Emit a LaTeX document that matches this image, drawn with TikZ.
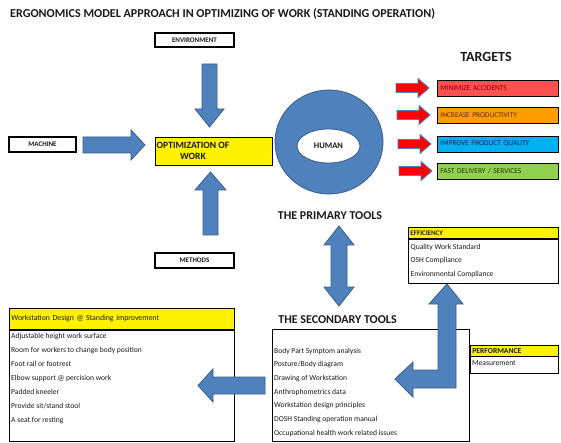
\documentclass[tikz,border=0pt]{standalone}
\usepackage{fontspec}
\setmainfont{Carlito}
\definecolor{ablue}{HTML}{4F81BD}
\definecolor{ablueline}{HTML}{385D8A}
\definecolor{tred}{HTML}{FF5050}
\definecolor{tredtext}{HTML}{7F0000}
\definecolor{torange}{HTML}{FF9C00}
\definecolor{torangetext}{HTML}{5A2E00}
\definecolor{tblue}{HTML}{00B0F0}
\definecolor{tbluetext}{HTML}{002060}
\definecolor{tgreen}{HTML}{92D050}
\definecolor{tgreentext}{HTML}{1E3A00}
\definecolor{ink}{HTML}{1A1A1A}
\begin{document}
\begin{tikzpicture}[x=1pt,y=-1pt,
  fatarrow/.style={fill=ablue, draw=ablueline, line width=0.8pt, line join=miter},
  redarrow/.style={fill=red, draw=ablue, line width=0.9pt, line join=miter},
  labelbox/.style={draw=black, line width=1.4pt, fill=white, inner sep=0pt,
    text=ink, font=\fontsize{7}{8}\bfseries\selectfont},
  headtext/.style={text=ink, font=\fontsize{12}{14}\bfseries\selectfont, inner sep=0pt},
  tbox/.style={draw=black, line width=0.8pt, minimum height=16pt, text width=115pt,
    align=left, inner xsep=3pt, inner ysep=0pt, font=\fontsize{7.4}{8}\selectfont,
    anchor=west},
  hbar/.style={draw=black, line width=0.8pt, fill=yellow, anchor=north west,
    inner xsep=2pt, inner ysep=0pt, align=left, text=ink},
  bodybox/.style={draw=black, line width=0.8pt, fill=white, anchor=north west, inner sep=0pt},
  listtext/.style={anchor=west, inner sep=0pt, text=ink, font=\fontsize{7.6}{9}\selectfont,
    text height=5.5pt, text depth=1.5pt}
]
\useasboundingbox (0,0) rectangle (561,443);
\fill[white] (0,0) rectangle (561,443);

% title
\node[headtext, anchor=west, font=\fontsize{12.1}{14}\bfseries\selectfont] (title) at (10,14)
  {ERGONOMICS MODEL APPROACH IN OPTIMIZING OF WORK (STANDING OPERATION)};

% input boxes
\node[labelbox, minimum width=79pt, minimum height=14pt] (env) at (194.5,40) {ENVIRONMENT};
\node[labelbox, minimum width=67pt, minimum height=15pt] (mach) at (42.5,144.5) {MACHINE};
\node[labelbox, minimum width=79pt, minimum height=15pt] (meth) at (194.5,260.5) {METHODS};

% optimization box
\node[draw=black, line width=0.8pt, fill=yellow, minimum width=117pt, minimum height=28pt,
  inner sep=0pt] (opt) at (213.5,151) {};
\node[anchor=west, align=center, inner sep=0pt, text=ink,
  font=\fontsize{9.6}{10.5}\bfseries\selectfont] (opttext) at (156.5,151)
  {OPTIMIZATION OF\\WORK};

% block arrows into optimization
\draw[fatarrow] (202,64) -- (217,64) -- (217,109) -- (224,109) -- (209.5,127)
  -- (195,109) -- (202,109) -- cycle;
\draw[fatarrow] (83,137) -- (131,137) -- (131,130) -- (145,145) -- (131,160)
  -- (131,153) -- (83,153) -- cycle;
\draw[fatarrow] (203,235) -- (203,190) -- (195,190) -- (210.5,172) -- (226,190)
  -- (218,190) -- (218,235) -- cycle;

% human ring
\path[fill=ablue, even odd rule] (329,142) ellipse [x radius=54pt, y radius=52pt]
  (328.5,146) ellipse [x radius=31.5pt, y radius=17pt];
\draw[ablueline, line width=0.8pt] (329,142) ellipse [x radius=54pt, y radius=52pt];
\draw[ablueline, line width=0.8pt] (328.5,146) ellipse [x radius=31.5pt, y radius=17pt];
\node[inner sep=0pt, text=ink, font=\fontsize{8.5}{9}\bfseries\selectfont] (human) at (328.5,146) {HUMAN};

% targets
\node[headtext, font=\fontsize{14}{16}\bfseries\selectfont] (targets) at (486,56.5) {TARGETS};
\node[tbox, fill=tred, text=tredtext] (t1) at (437,88) {MINIMIZE ACCIDENTS};
\node[tbox, fill=torange, text=torangetext] (t2) at (437,115) {INCREASE PRODUCTIVITY};
\node[tbox, fill=tblue, text=tbluetext] (t3) at (437,144) {IMPROVE PRODUCT QUALITY};
\node[tbox, fill=tgreen, text=tgreentext] (t4) at (437,171) {FAST DELIVERY / SERVICES};
\foreach \yy/\xx in {88/396, 115/397, 144/398, 171/399}{
  \draw[redarrow] (\xx,\yy-4.5) -- (\xx+22,\yy-4.5) -- (\xx+22,\yy-9.5) -- (\xx+33,\yy)
    -- (\xx+22,\yy+9.5) -- (\xx+22,\yy+4.5) -- (\xx,\yy+4.5) -- cycle;
}

% primary tools
\node[headtext] (primary) at (330,215.5) {THE PRIMARY TOOLS};
\draw[fatarrow] (339,226) -- (354,245) -- (347,245) -- (347,287) -- (354,287) -- (339,306)
  -- (324,287) -- (331,287) -- (331,245) -- (324,245) -- cycle;

% efficiency box
\node[hbar, minimum width=150pt, minimum height=11pt, text width=146pt,
  font=\fontsize{7}{8}\bfseries\selectfont] (effh) at (408,227) {EFFICIENCY};
\node[bodybox, minimum width=150pt, minimum height=44pt] (effb) at (effh.south west) {};
\foreach \t [count=\i] in {Quality Work Standard, OSH Compliance, Environmental Compliance}
  \node[listtext] (eff\i) at (410.5,{247+13.5*(\i-1)}) {\t};

% secondary tools
\node[headtext] (secondary) at (337.5,319.5) {THE SECONDARY TOOLS};
\node[bodybox, minimum width=197pt, minimum height=112pt] (secb) at (272,329) {};
\foreach \t [count=\i] in {Body Part Symptom analysis, Posture/Body diagram,
  Drawing of Workstation, Anthrophometrics data, Workstation design principles,
  DOSH Standing operation manual, Occupational health work related issues}
  \node[listtext] (sec\i) at (274,{351+13.7*(\i-1)}) {\t};

% performance box
\node[hbar, minimum width=88pt, minimum height=10.5pt, text width=84pt,
  font=\fontsize{7.6}{8}\bfseries\selectfont] (perfh) at (470,345) {PERFORMANCE};
\node[bodybox, minimum width=88pt, minimum height=16.5pt] (perfb) at (perfh.south west) {};
\node[listtext] (perf1) at (472,363.5) {Measurement};

% bent arrow secondary -> efficiency
\draw[fatarrow] (447,284) -- (463,304) -- (456,304) -- (456,388) -- (413,388) -- (413,397)
  -- (395,379) -- (413,362) -- (413,370) -- (438,370) -- (438,304) -- (429,304) -- cycle;

% workstation box
\node[hbar, minimum width=225pt, minimum height=21pt, text width=221pt,
  font=\fontsize{7.8}{9}\selectfont] (wsh) at (9,308) {Workstation Design @ Standing improvement};
\node[bodybox, minimum width=225pt, minimum height=111pt] (wsb) at (wsh.south west) {};
\foreach \t [count=\i] in {Adjustable height work surface, Room for workers to change body position,
  Foot rail or footrest, Elbow support @ percision work, Padded kneeler,
  Provide sit/stand stool, A seat for resting}
  \node[listtext] (ws\i) at (11,{336+14*(\i-1)}) {\t};

% arrow secondary -> workstation
\draw[fatarrow] (265,377) -- (213,377) -- (213,369) -- (198,385.5) -- (213,402)
  -- (213,394) -- (265,394) -- cycle;
\end{tikzpicture}
\end{document}
